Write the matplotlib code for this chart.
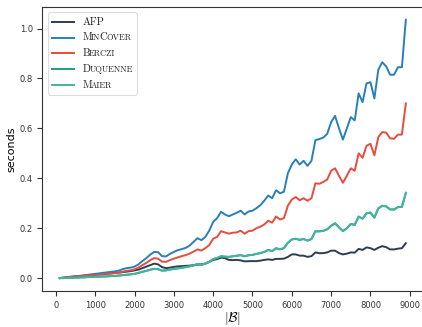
import matplotlib
matplotlib.use('Agg')
import matplotlib.pyplot as plt
from matplotlib.offsetbox import AnchoredOffsetbox, TextArea, HPacker, VPacker, DrawingArea
from matplotlib.lines import Line2D

plt.rcParams['mathtext.fontset'] = 'cm'

# |B| values, step 100
sizes = list(range(100, 9000, 100))

afp = [0.000, 0.002, 0.003, 0.005, 0.006, 0.008, 0.009, 0.011, 0.012, 0.014,
       0.015, 0.017, 0.018, 0.019, 0.021, 0.022, 0.024, 0.026, 0.028, 0.031,
       0.034, 0.040, 0.046, 0.052, 0.058, 0.055, 0.044, 0.040, 0.042, 0.045,
       0.047, 0.048, 0.049, 0.050, 0.052, 0.054, 0.055, 0.058, 0.065, 0.073,
       0.076, 0.082, 0.080, 0.073, 0.072, 0.073, 0.071, 0.067, 0.068, 0.068,
       0.068, 0.070, 0.073, 0.075, 0.073, 0.077, 0.077, 0.078, 0.085, 0.095,
       0.095, 0.090, 0.090, 0.085, 0.088, 0.103, 0.100, 0.100, 0.103, 0.110,
       0.110, 0.100, 0.095, 0.098, 0.103, 0.102, 0.117, 0.113, 0.123, 0.120,
       0.113, 0.122, 0.128, 0.124, 0.115, 0.115, 0.118, 0.120, 0.140]

mincover = [0.000, 0.002, 0.004, 0.006, 0.008, 0.009, 0.011, 0.013, 0.015, 0.017,
            0.019, 0.021, 0.023, 0.025, 0.027, 0.030, 0.036, 0.040, 0.042, 0.046,
            0.055, 0.068, 0.080, 0.094, 0.105, 0.104, 0.088, 0.087, 0.097, 0.105,
            0.112, 0.116, 0.121, 0.130, 0.145, 0.160, 0.152, 0.165, 0.190, 0.225,
            0.240, 0.266, 0.255, 0.248, 0.255, 0.262, 0.270, 0.255, 0.267, 0.270,
            0.280, 0.292, 0.310, 0.331, 0.320, 0.352, 0.340, 0.346, 0.420, 0.455,
            0.476, 0.455, 0.470, 0.450, 0.470, 0.553, 0.557, 0.563, 0.578, 0.625,
            0.650, 0.600, 0.555, 0.600, 0.645, 0.632, 0.740, 0.705, 0.780, 0.785,
            0.720, 0.835, 0.865, 0.848, 0.815, 0.815, 0.845, 0.845, 1.035]

berczi = [0.000, 0.001, 0.003, 0.004, 0.006, 0.007, 0.008, 0.010, 0.011, 0.012,
          0.014, 0.015, 0.017, 0.018, 0.020, 0.022, 0.026, 0.029, 0.031, 0.035,
          0.042, 0.052, 0.061, 0.072, 0.080, 0.078, 0.066, 0.065, 0.072, 0.078,
          0.083, 0.088, 0.092, 0.098, 0.106, 0.115, 0.110, 0.120, 0.132, 0.158,
          0.165, 0.188, 0.183, 0.178, 0.182, 0.183, 0.190, 0.178, 0.188, 0.190,
          0.200, 0.206, 0.215, 0.230, 0.222, 0.247, 0.235, 0.240, 0.290, 0.315,
          0.325, 0.312, 0.320, 0.310, 0.320, 0.380, 0.378, 0.385, 0.395, 0.430,
          0.440, 0.410, 0.382, 0.410, 0.440, 0.430, 0.500, 0.482, 0.530, 0.538,
          0.492, 0.565, 0.585, 0.583, 0.560, 0.558, 0.575, 0.575, 0.700]

duquenne = [0.000, 0.000, 0.001, 0.001, 0.002, 0.002, 0.003, 0.004, 0.004, 0.005,
            0.006, 0.006, 0.007, 0.008, 0.009, 0.010, 0.012, 0.014, 0.015, 0.017,
            0.021, 0.025, 0.029, 0.034, 0.037, 0.036, 0.030, 0.031, 0.034, 0.037,
            0.039, 0.041, 0.044, 0.047, 0.050, 0.057, 0.053, 0.058, 0.065, 0.077,
            0.080, 0.088, 0.086, 0.085, 0.087, 0.090, 0.092, 0.087, 0.092, 0.093,
            0.097, 0.100, 0.105, 0.113, 0.108, 0.120, 0.115, 0.120, 0.142, 0.155,
            0.158, 0.153, 0.157, 0.150, 0.157, 0.188, 0.187, 0.190, 0.195, 0.210,
            0.220, 0.203, 0.188, 0.200, 0.217, 0.213, 0.247, 0.238, 0.260, 0.262,
            0.242, 0.280, 0.290, 0.287, 0.275, 0.275, 0.285, 0.285, 0.342]

maier = [0.000, 0.000, 0.001, 0.001, 0.002, 0.003, 0.003, 0.004, 0.005, 0.005,
         0.006, 0.007, 0.007, 0.008, 0.009, 0.010, 0.012, 0.013, 0.015, 0.017,
         0.021, 0.026, 0.029, 0.033, 0.037, 0.035, 0.030, 0.031, 0.035, 0.037,
         0.039, 0.042, 0.044, 0.047, 0.051, 0.056, 0.053, 0.058, 0.066, 0.076,
         0.081, 0.087, 0.086, 0.085, 0.088, 0.089, 0.092, 0.088, 0.091, 0.093,
         0.097, 0.101, 0.105, 0.112, 0.109, 0.119, 0.116, 0.120, 0.141, 0.155,
         0.157, 0.154, 0.156, 0.151, 0.156, 0.187, 0.188, 0.189, 0.196, 0.209,
         0.219, 0.204, 0.189, 0.199, 0.216, 0.214, 0.246, 0.238, 0.259, 0.263,
         0.243, 0.279, 0.289, 0.288, 0.276, 0.274, 0.284, 0.286, 0.341]

names = ['AFP', 'MinCover', 'Berczi', 'Duquenne', 'Maier']
colors = ['#2c3e50', '#2980b9', '#e74c3c', '#16a085', '#45b39d']
series = [afp, mincover, berczi, duquenne, maier]

fig = plt.figure(figsize=(4.22, 3.27), dpi=100)
ax = fig.add_axes([0.1007, 0.110, 0.902, 0.869])

for vals, name, c in zip(series, names, colors):
    ax.plot(sizes, vals, color=c, lw=1.4, label=name)

ax.set_xticks(range(0, 10000, 1000))
ax.set_yticks([0.0, 0.2, 0.4, 0.6, 0.8, 1.0])
ax.tick_params(labelsize=6, length=3.5, width=0.8, colors='#333333')
for s in ax.spines.values():
    s.set_color('#333333')
ax.set_ylabel('seconds', fontsize=8, labelpad=2)
ax.set_xlabel(r'$|\mathcal{B}|$', fontsize=10, labelpad=0)


# legend built by hand so the names can be in small caps
def pieces(word):
    out = []
    for ch in word:
        big = ch.isupper()
        if out and out[-1][1] == big:
            out[-1][0] += ch.upper()
        else:
            out.append([ch.upper(), big])
    return out


rows = []
for name, c in zip(names, colors):
    da = DrawingArea(16, 8, 0, 0)
    da.add_artist(Line2D([0, 16], [4, 4], color=c, lw=1.4))
    parts = [TextArea(txt, textprops=dict(fontsize=7.6 if big else 6.1,
                                          family='cmr10', color='#222222'))
             for txt, big in pieces(name)]
    lab = HPacker(children=parts, align='baseline', pad=0, sep=-0.7)
    rows.append(HPacker(children=[da, lab], align='center', pad=0, sep=6))

box = VPacker(children=rows, align='left', pad=0, sep=3.4)
leg = AnchoredOffsetbox(loc='upper left', child=box, pad=0.4, borderpad=0.5,
                        frameon=True, prop=dict(size=7.5))
leg.patch.set_boxstyle('round,pad=0,rounding_size=0.25')
leg.patch.set_edgecolor('#dddddd')
leg.patch.set_linewidth(0.8)
ax.add_artist(leg)

fig.savefig('out.png', dpi=100)
